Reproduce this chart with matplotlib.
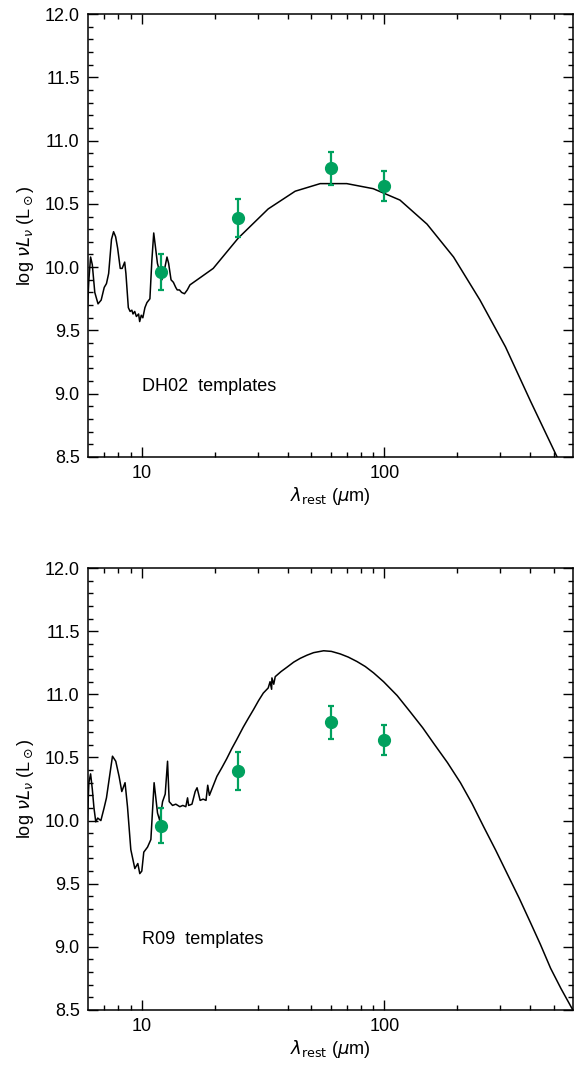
import matplotlib
matplotlib.use("Agg")
import matplotlib.pyplot as plt
from matplotlib.ticker import FixedLocator, FixedFormatter, MultipleLocator, NullFormatter

## IRAS photometry (12, 25, 60, 100 um)
obs_wave = [12, 25, 60, 100]
obs_logL = [9.96, 10.39, 10.78, 10.64]
obs_err = [0.14, 0.15, 0.13, 0.12]

## DH02 template
dh02_wave = [5.95, 6.05, 6.15, 6.25, 6.4, 6.6, 6.8, 7.0, 7.15, 7.3, 7.5, 7.65, 7.8, 7.95,
             8.15, 8.3, 8.5, 8.6, 8.8, 8.95, 9.1, 9.2, 9.35, 9.5, 9.7, 9.8, 9.95, 10.1,
             10.3, 10.5, 10.8, 11.0, 11.2, 11.35, 11.6, 11.9, 12.1, 12.4, 12.7, 12.9,
             13.2, 13.5, 13.8, 14.0, 14.3, 14.6, 15.0, 15.4, 15.8, 17.5, 19.7, 25.0, 33.2,
             42.9, 54.4, 70, 90, 116, 150, 193, 248, 316, 401, 510, 620]
dh02_logL = [9.62, 9.90, 10.08, 10.02, 9.80, 9.71, 9.74, 9.84, 9.87, 9.95, 10.22, 10.28,
             10.24, 10.15, 9.99, 9.99, 10.04, 9.95, 9.68, 9.65, 9.66, 9.63, 9.65, 9.61,
             9.63, 9.57, 9.62, 9.60, 9.68, 9.72, 9.75, 10.05, 10.27, 10.18, 10.03, 9.95,
             9.90, 9.98, 10.08, 10.03, 9.90, 9.88, 9.84, 9.82, 9.82, 9.80, 9.79, 9.82,
             9.86, 9.92, 9.99, 10.23, 10.46, 10.60, 10.66, 10.66, 10.62, 10.53, 10.34,
             10.08, 9.74, 9.37, 8.94, 8.52, 8.18]

## R09 template
r09_wave = [5.95, 6.05, 6.15, 6.25, 6.35, 6.46, 6.58, 6.78, 6.99, 7.15, 7.57, 7.81, 8.06,
            8.27, 8.53, 8.73, 9.01, 9.36, 9.63, 9.81, 10.0, 10.19, 10.56, 10.9, 11.24,
            11.61, 11.86, 12.18, 12.49, 12.77, 12.97, 13.39, 13.81, 14.35, 14.76, 15.19,
            15.44, 15.6, 16.1, 16.6, 16.9, 17.4, 17.9, 18.4, 18.7, 19.0, 20.4, 21.4, 22.4,
            23.5, 24.6, 26.2, 27.5, 28.9, 30.3, 31.7, 33.2, 33.8, 34.3, 34.4, 35.0, 35.5,
            37.5, 39.7, 42.3, 45.0, 48.0, 51.1, 56.2, 60.5, 65.8, 71, 77.1, 83.5, 90.3,
            99.3, 113, 128, 144, 160, 182, 206, 230, 257, 288, 321, 360, 401, 440, 485,
            535, 587, 620]
r09_logL = [9.95, 10.30, 10.37, 10.25, 10.10, 9.99, 10.02, 10.00, 10.10, 10.18, 10.51,
            10.47, 10.35, 10.23, 10.30, 10.11, 9.77, 9.62, 9.66, 9.58, 9.60, 9.75, 9.79,
            9.85, 10.30, 10.06, 10.00, 10.15, 10.21, 10.47, 10.15, 10.12, 10.13, 10.11,
            10.12, 10.11, 10.18, 10.12, 10.13, 10.23, 10.26, 10.16, 10.17, 10.16, 10.28,
            10.20, 10.35, 10.42, 10.49, 10.57, 10.64, 10.74, 10.81, 10.88, 10.95, 11.01,
            11.05, 11.10, 11.04, 11.13, 11.08, 11.14, 11.18, 11.215, 11.255, 11.285,
            11.31, 11.33, 11.345, 11.34, 11.32, 11.295, 11.26, 11.22, 11.17, 11.10,
            10.99, 10.86, 10.735, 10.61, 10.46, 10.30, 10.135, 9.95, 9.765, 9.58, 9.385,
            9.19, 9.02, 8.83, 8.67, 8.53, 8.45]

green = "#00a15e"
plt.rcParams["font.family"] = ["Liberation Sans", "DejaVu Sans"]
plt.rcParams["mathtext.fontset"] = "dejavusans"

fig = plt.figure(figsize=(5.74, 10.7), dpi=100)
ax_top = fig.add_axes([0.1533, 0.5729, 0.845, 0.414])
ax_bot = fig.add_axes([0.1533, 0.0561, 0.845, 0.413])

panels = [(ax_top, dh02_wave, dh02_logL, "DH02  templates"),
          (ax_bot, r09_wave, r09_logL, "R09  templates")]

for ax, wave, logL, label in panels:
    ax.plot(wave, logL, color="k", lw=1.1)
    ax.errorbar(obs_wave, obs_logL, yerr=obs_err, fmt="o", color=green, ms=8.5,
                elinewidth=1.6, capsize=2.5, capthick=1.6, zorder=3)

    ax.set_xscale("log")
    ax.set_xlim(6, 600)
    ax.set_ylim(8.5, 12.0)

    ## ticks: labelled decades only, inward on all four sides
    ax.xaxis.set_major_locator(FixedLocator([10, 100]))
    ax.xaxis.set_major_formatter(FixedFormatter(["10", "100"]))
    ax.xaxis.set_minor_locator(FixedLocator([7, 8, 9, 20, 30, 40, 50, 60, 70, 80, 90,
                                             200, 300, 400, 500]))
    ax.xaxis.set_minor_formatter(NullFormatter())
    ax.yaxis.set_major_locator(MultipleLocator(0.5))
    ax.yaxis.set_minor_locator(MultipleLocator(0.1))
    ax.yaxis.set_major_formatter(plt.FormatStrFormatter("%.1f"))
    ax.tick_params(which="both", direction="in", top=True, right=True, width=1.0,
                   labelsize=13, pad=6)
    ax.tick_params(which="major", length=7)
    ax.tick_params(which="minor", length=3.5)
    for s in ax.spines.values():
        s.set_linewidth(1.1)

    ax.set_xlabel(r"$\lambda_{\rm rest}$ ($\mu$m)", fontsize=13, labelpad=2)
    ax.set_ylabel(r"log $\nu L_\nu$ (L$_\odot$)", fontsize=13, labelpad=6)
    ax.text(10, 9.06, label, fontsize=13, va="center", ha="left")

fig.savefig("out.png", dpi=100)
